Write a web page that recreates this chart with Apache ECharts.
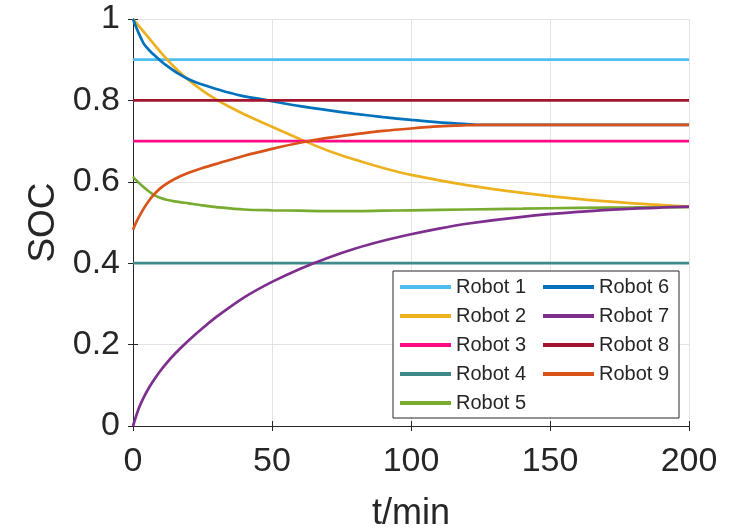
<!DOCTYPE html>
<html>
<head>
<meta charset="utf-8">
<script src="https://cdn.jsdelivr.net/npm/echarts@6/dist/echarts.min.js"></script>
<style>
  html, body { margin: 0; padding: 0; background: #fff; }
  #MyChart { width: 746px; height: 529px; }
</style>
</head>
<body>
<div id="MyChart"></div>
<script>
// 各机器人 SOC 随时间变化 (t/min)
const names = ['Robot 1', 'Robot 2', 'Robot 3', 'Robot 4', 'Robot 5', 'Robot 6', 'Robot 7', 'Robot 8', 'Robot 9'];
const colors = ['#4DBEEE', '#EDB120', '#FF0A85', '#3E8A8A', '#77AC30', '#0072BD', '#7E2F8E', '#A2142F', '#D95319'];

// 恒定 SOC 的机器人
const tFlat = [0, 200];
const robot1 = [0.9, 0.9];
const robot3 = [0.7, 0.7];
const robot4 = [0.4, 0.4];
const robot8 = [0.8, 0.8];

// 变化的机器人
const t2 = [0, 5, 10, 15, 20, 25, 30, 35, 40, 50, 60, 70, 80, 90, 100, 120, 140, 160, 180, 200];
const robot2 = [1.0, 0.959, 0.918, 0.881, 0.850, 0.824, 0.802, 0.783, 0.766, 0.735, 0.705, 0.677, 0.654, 0.634, 0.617, 0.592, 0.573, 0.558, 0.547, 0.539];

const t5 = [0, 2, 4, 6, 8, 10, 12, 15, 20, 25, 30, 40, 50, 60, 70, 80, 90, 100, 120, 140, 160, 180, 200];
const robot5 = [0.612, 0.598, 0.586, 0.575, 0.566, 0.560, 0.556, 0.552, 0.547, 0.542, 0.538, 0.532, 0.530, 0.529, 0.528, 0.528, 0.529, 0.530, 0.532, 0.534, 0.536, 0.537, 0.538];

const t6 = [0, 1, 2, 3, 4, 6, 8, 10, 12, 16, 20, 24, 30, 34, 40, 46, 50, 60, 70, 80, 90, 100, 110, 120, 125, 200];
const robot6 = [1.0, 0.982, 0.966, 0.951, 0.938, 0.922, 0.909, 0.897, 0.886, 0.867, 0.852, 0.841, 0.828, 0.820, 0.810, 0.803, 0.798, 0.786, 0.776, 0.767, 0.759, 0.752, 0.746, 0.742, 0.740, 0.740];

const t7 = [0, 2, 4, 6, 8, 10, 12, 15, 20, 25, 30, 40, 50, 60, 70, 80, 90, 100, 110, 120, 140, 160, 180, 200];
const robot7 = [0, 0.042, 0.072, 0.097, 0.118, 0.137, 0.154, 0.177, 0.210, 0.240, 0.268, 0.316, 0.354, 0.386, 0.413, 0.436, 0.455, 0.471, 0.485, 0.497, 0.514, 0.526, 0.534, 0.539];

const t9 = [0, 1, 2, 4, 6, 8, 10, 12, 15, 20, 25, 30, 40, 50, 60, 70, 80, 90, 100, 110, 120, 125, 200];
const robot9 = [0.482, 0.498, 0.512, 0.536, 0.556, 0.572, 0.585, 0.595, 0.607, 0.622, 0.634, 0.644, 0.664, 0.681, 0.696, 0.708, 0.717, 0.725, 0.731, 0.736, 0.739, 0.740, 0.740];

function pairs(t, v) {
  let out = [];
  for (let i = 0; i < t.length; i++) {
    out.push([t[i], v[i]]);
  }
  return out;
}

const seriesData = [
  pairs(tFlat, robot1),
  pairs(t2, robot2),
  pairs(tFlat, robot3),
  pairs(tFlat, robot4),
  pairs(t5, robot5),
  pairs(t6, robot6),
  pairs(t7, robot7),
  pairs(tFlat, robot8),
  pairs(t9, robot9)
];

const axisColor = '#262626';
const font = 'Liberation Sans';

let series = [];
for (let i = 0; i < names.length; i++) {
  series.push({
    name: names[i],
    type: 'line',
    data: seriesData[i],
    showSymbol: false,
    smooth: 0.3,
    lineStyle: { width: 2.7, color: colors[i] },
    itemStyle: { color: colors[i] },
    animation: false
  });
}

let myChart = echarts.init(document.getElementById('MyChart'), null, { renderer: 'canvas' });
let option = {
  animation: false,
  color: colors,
  grid: { left: 133, right: 57, top: 19, bottom: 103, containLabel: false, outerBoundsMode: 'none' },
  legend: {
    orient: 'vertical',
    left: 393,
    top: 271,
    height: 165,
    padding: [5, 0, 4, 7],
    itemGap: 7,
    itemWidth: 51,
    itemHeight: 4,
    icon: 'rect',
    backgroundColor: '#fff',
    borderColor: axisColor,
    borderWidth: 1,
    borderRadius: 0,
    textStyle: { fontSize: 20, color: axisColor, fontFamily: font, lineHeight: 22, width: 80 },
    data: names
  },
  xAxis: [
    {
      type: 'value',
      min: 0, max: 200, interval: 50,
      name: 't/min',
      nameLocation: 'middle',
      nameGap: 70,
      nameTextStyle: { fontSize: 36, color: axisColor, fontFamily: font },
      axisLine: { show: true, lineStyle: { color: axisColor, width: 1 } },
      axisTick: { show: true, inside: true, length: 5, lineStyle: { color: axisColor } },
      axisLabel: { fontSize: 34, color: axisColor, fontFamily: font, margin: 19 },
      splitLine: { show: true, lineStyle: { color: '#e3e3e3', width: 1 } }
    },
    {
      type: 'value',
      position: 'top',
      min: 0, max: 200, interval: 50,
      axisLine: { show: true, lineStyle: { color: axisColor, width: 1 } },
      axisTick: { show: true, inside: true, length: 5, lineStyle: { color: axisColor } },
      axisLabel: { show: false },
      splitLine: { show: false }
    }
  ],
  yAxis: [
    {
      type: 'value',
      min: 0, max: 1, interval: 0.2,
      name: 'SOC',
      nameLocation: 'middle',
      nameGap: 67,
      nameTextStyle: { fontSize: 37, color: axisColor, fontFamily: font },
      axisLine: { show: true, lineStyle: { color: axisColor, width: 1 } },
      axisTick: { show: true, inside: true, length: 5, lineStyle: { color: axisColor } },
      axisLabel: { fontSize: 34, color: axisColor, fontFamily: font, margin: 13 },
      splitLine: { show: true, lineStyle: { color: '#e3e3e3', width: 1 } }
    },
    {
      type: 'value',
      position: 'right',
      min: 0, max: 1, interval: 0.2,
      axisLine: { show: true, lineStyle: { color: axisColor, width: 1 } },
      axisTick: { show: true, inside: true, length: 5, lineStyle: { color: axisColor } },
      axisLabel: { show: false },
      splitLine: { show: false }
    }
  ],
  series: series
};
myChart.setOption(option);
</script>
</body>
</html>
